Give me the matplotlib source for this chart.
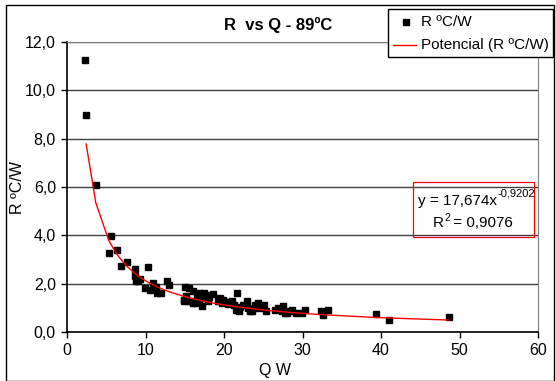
import numpy as np
import matplotlib
matplotlib.use("Agg")
import matplotlib.pyplot as plt
from matplotlib.lines import Line2D
from matplotlib.patches import Rectangle

plt.rcParams['font.family'] = ['Liberation Sans', 'DejaVu Sans']

q_w = [2.26, 2.44, 3.67, 5.57, 5.3, 6.38, 6.83, 7.7, 8.64, 10.3, 8.7, 8.8, 9.0, 9.3,
       9.95, 10.6, 10.9, 11.3, 11.5, 12.0, 12.7, 13.0,
       15.0, 15.6, 14.9, 14.9, 15.4, 15.2, 16.1, 16.1, 16.5, 17.0, 17.2, 17.4, 17.6, 17.9,
       16.8, 18.1, 18.6, 19.2, 19.5, 19.7, 19.9, 20.2, 21.0, 21.3, 21.6, 21.5, 21.9, 22.4,
       22.9, 23.1, 23.3, 23.6, 24.0, 24.3, 24.7, 25.1, 25.4, 26.5, 26.9, 27.4, 27.5, 27.8,
       28.3, 28.7, 29.2, 29.95, 30.3, 32.4, 32.6, 33.3, 39.3, 41.0, 48.6,
       15.8, 16.3, 17.7, 20.5, 22.1, 23.9, 27.2, 28.0]
r_cw = [11.24, 8.98, 6.07, 3.96, 3.26, 3.41, 2.75, 2.9, 2.59, 2.67, 2.3, 2.1, 2.09, 2.2,
        1.82, 1.75, 2.02, 1.88, 1.6, 1.6, 2.09, 1.93,
        1.86, 1.82, 1.33, 1.27, 1.27, 1.5, 1.68, 1.2, 1.47, 1.61, 1.09, 1.61, 1.40, 1.27,
        1.35, 1.45, 1.58, 1.27, 1.40, 1.2, 1.33, 1.25, 1.27, 1.13, 1.61, 0.92, 0.85, 1.13,
        1.27, 0.99, 0.85, 0.85, 1.13, 1.2, 0.99, 1.13, 0.85, 0.92, 0.99, 0.85, 1.06, 0.78,
        0.85, 0.92, 0.78, 0.78, 0.92, 0.85, 0.72, 0.89, 0.74, 0.51, 0.61,
        1.3, 1.2, 1.55, 1.15, 1.05, 1.0, 0.95, 0.8]

fit_a = 17.674
fit_b = -0.9202
r2 = 0.9076

x_ticks = [0, 10, 20, 30, 40, 50, 60]
y_ticks = [0, 2, 4, 6, 8, 10, 12]

W, H = 556, 381
fig = plt.figure(figsize=(W / 100, H / 100), dpi=100)
fig.patch.set_facecolor('white')

# outer chart border
fig.patches.append(Rectangle((6 / W, 0), (W - 8) / W, 1 - 5 / H, transform=fig.transFigure,
                             fill=False, edgecolor='black', linewidth=1.0))

ax = fig.add_axes([67 / W, 1 - 332 / H, (538 - 67) / W, (332 - 42) / H])
ax.set_xlim(0, 60)
ax.set_ylim(0, 12)
ax.set_xticks(x_ticks)
ax.set_yticks(y_ticks)
ax.set_xticklabels([str(v) for v in x_ticks], fontsize=11.5)
ax.set_yticklabels([f"{v:.1f}".replace('.', ',') for v in y_ticks], fontsize=11.5)
ax.tick_params(direction='out', length=4, width=1, color='black', pad=4)
ax.yaxis.grid(True, color='#404040', linewidth=1)
ax.set_axisbelow(True)
for s in ['top', 'right']:
    ax.spines[s].set_color('#808080')
for s in ['left', 'bottom']:
    ax.spines[s].set_color('black')
    ax.spines[s].set_linewidth(1.2)

ax.plot(q_w, r_cw, linestyle='none', marker='s', markersize=4.8, color='black', zorder=3)

qs = np.sort(np.array(q_w[1:]))
ax.plot(qs, fit_a * qs ** fit_b, color='red', linewidth=1, zorder=4)

fig.text(275 / W, 1 - 371 / H, 'Q W', ha='center', va='center', fontsize=11.5)
fig.text(18 / W, 1 - 187 / H, 'R ºC/W', ha='center', va='center', fontsize=11.5, rotation=90)

fig.text(278 / W, 1 - 25 / H, 'R  vs Q - 89ºC', ha='center', va='center', fontsize=12,
         fontweight='bold')

# equation box
fig.patches.append(Rectangle((413 / W, 1 - 237 / H), 121 / W, 55 / H, transform=fig.transFigure,
                             fill=False, edgecolor='red', linewidth=0.9))
fig.text(497 / W, 1 - 201 / H, 'y = ' + f"{fit_a:.3f}".replace('.', ',') + 'x',
         ha='right', va='center', fontsize=11)
fig.text(497 / W, 1 - 194 / H, f"{fit_b:.4f}".replace('.', ','),
         ha='left', va='center', fontsize=8)
fig.text(444 / W, 1 - 223 / H, 'R', ha='right', va='center', fontsize=11)
fig.text(444 / W, 1 - 218 / H, '2', ha='left', va='center', fontsize=7.5)
fig.text(449 / W, 1 - 223 / H, ' = ' + f"{r2:.4f}".replace('.', ','),
         ha='left', va='center', fontsize=11)

# legend
fig.patches.append(Rectangle((388 / W, 1 - 57 / H), 165 / W, 48 / H, transform=fig.transFigure,
                             facecolor='white', edgecolor='black', linewidth=1.0, zorder=5))
fig.lines.append(Line2D([406 / W], [1 - 22 / H], transform=fig.transFigure, marker='s',
                        markersize=4, color='black', linestyle='none', zorder=6))
fig.lines.append(Line2D([393 / W, 416 / W], [1 - 45 / H, 1 - 45 / H], transform=fig.transFigure,
                        color='red', linewidth=1, zorder=6))
fig.text(421 / W, 1 - 22 / H, 'R ºC/W', ha='left', va='center', fontsize=11, zorder=6)
fig.text(421 / W, 1 - 45 / H, 'Potencial (R ºC/W)', ha='left', va='center', fontsize=11, zorder=6)

fig.savefig('out.png', dpi=100, facecolor='white')
